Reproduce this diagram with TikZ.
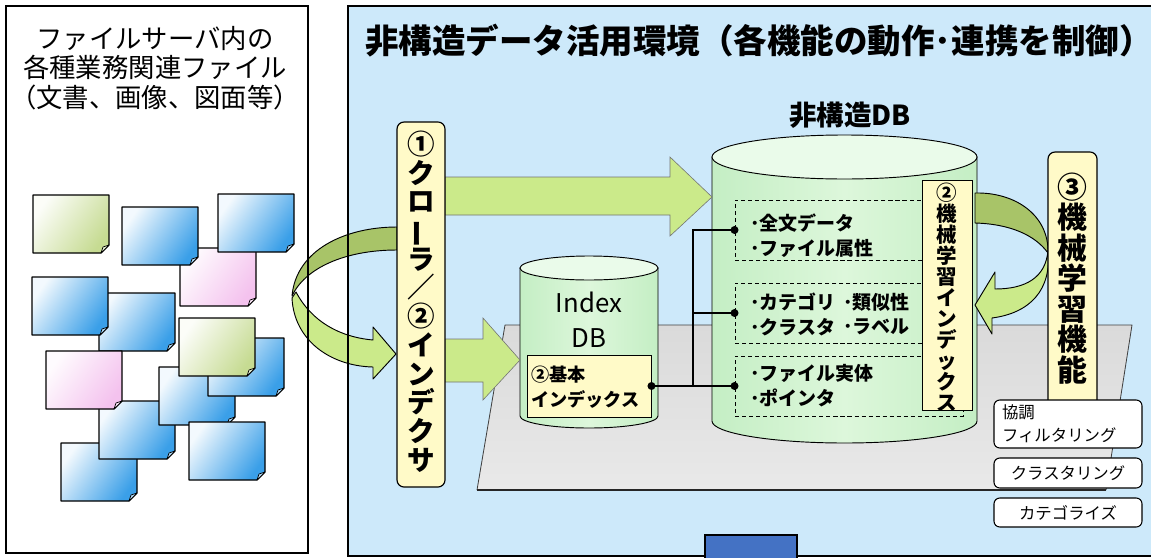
\documentclass[tikz,border=0pt]{standalone}
\usepackage{fontspec}
\setmainfont{Noto Sans CJK JP}
\usepackage{graphicx}

\definecolor{envbg}{HTML}{CDE9FA}
\definecolor{memo}{HTML}{FFFAC8}
\definecolor{cylbody}{HTML}{C4EEC4}
\definecolor{cylmid}{HTML}{DDF7DB}
\definecolor{cyltop}{HTML}{EAFBEA}
\definecolor{arrowlight}{HTML}{CBEA8A}
\definecolor{arrowdark}{HTML}{A8C468}
\definecolor{platformtop}{HTML}{DADADA}
\definecolor{platformbot}{HTML}{E9E9E9}
\definecolor{docblue}{HTML}{3A9FE8}
\definecolor{docgreen}{HTML}{C6DB92}
\definecolor{docpink}{HTML}{F4C2EE}
\definecolor{barblue}{HTML}{4472C4}

\tikzset{
  panel/.style={draw=black, line width=1.1pt},
  memobar/.style={draw=black, line width=1pt, fill=memo, rounded corners=6pt,
    inner sep=0pt, align=center},
  memobox/.style={draw=black, line width=0.8pt, fill=memo, inner sep=0pt},
  dbox/.style={draw=black, line width=0.8pt, dash pattern=on 3.5pt off 2.5pt,
    inner sep=0pt},
  itemtext/.style={anchor=west, inner sep=0pt,
    font=\bfseries\fontsize{16.2}{19}\selectfont},
  funcbox/.style={draw=black, line width=0.9pt, fill=white, rounded corners=5pt,
    minimum width=4.44cm, font=\fontsize{14}{19.5}\selectfont},
  flatarrow/.style={fill=arrowlight, draw=black!55, line width=0.5pt},
  bandlight/.style={fill=arrowlight, draw=black, line width=0.8pt, line join=round},
  banddark/.style={fill=arrowdark, draw=black, line width=0.8pt, line join=round},
  joint/.style={fill=black},
}

% a sheet of paper with a curled lower right corner; #1,#2 = top left, #3 = colour
\newcommand{\memofile}[3]{%
  \begin{scope}[shift={(#1,#2)}]
    \shadedraw[top color=#3!6!white, bottom color=#3, shading angle=55,
      draw=black, line width=1pt, line join=round]
      (0,0) -- (76,0) -- (76,50) -- (68,58) -- (0,58) -- cycle;
    \filldraw[fill=#3!40!white, draw=black, line width=0.6pt, line join=round]
      (68,58) .. controls (69,55) .. (70,52) .. controls (73,51.5) .. (76,50) -- cycle;
  \end{scope}}

\begin{document}
\begin{tikzpicture}[x=0.03cm, y=-0.03cm]
\useasboundingbox (0,0) rectangle (1151,557);
\fill[white] (0,0) rectangle (1151,557);

% panel backgrounds
\fill[white] (6,6) rectangle (308,553);
\fill[envbg] (348,6) rectangle (1160,556);

% business files
\memofile{180}{248}{docpink}
\memofile{122}{207}{docblue}
\memofile{218}{194}{docblue}
\memofile{33}{195}{docgreen}
\memofile{99}{293}{docblue}
\memofile{32}{277}{docblue}
\memofile{61}{443}{docblue}
\memofile{99}{401}{docblue}
\memofile{46}{351}{docpink}
\memofile{159}{367}{docblue}
\memofile{208}{338}{docblue}
\memofile{179}{318}{docgreen}
\memofile{189}{422}{docblue}

\node[align=center, inner sep=0pt, font=\fontsize{22.5}{25}\selectfont] (srctitle) at (155,68)
  {ファイルサーバ内の\\各種業務関連ファイル\\{\addfontfeature{RawFeature=+halt}（}文書、画像、図面等{\addfontfeature{RawFeature=+halt}）}};

\node[anchor=west, inner sep=0pt, font=\bfseries\fontsize{28.6}{30}\selectfont] (envtitle) at (365,41)
  {非構造データ活用環境（各機能の動作･連携を制御{\addfontfeature{RawFeature=+halt}）}};

% platform
\shade[top color=platformtop, bottom color=platformbot]
  (505,325) -- (1132,325) -- (1106,490) -- (477,490) -- cycle;
\draw[black!75, line width=0.7pt, line join=round]
  (477,490) -- (505,325) -- (1132,325) -- (1106,490);
\draw[black!85, line width=1.4pt] (477,490) -- (1106,490);

% Index DB cylinder
\shadedraw[left color=cylbody, right color=cylbody, middle color=cylmid, draw=black, line width=0.8pt]
  (520,268) -- (520,416) arc[start angle=180, end angle=360, x radius=2.07cm, y radius=0.36cm]
  -- (658,268) -- cycle;
\filldraw[fill=cyltop, draw=black, line width=0.8pt] (589,268) ellipse[x radius=2.07cm, y radius=0.36cm];
\node[align=center, inner sep=0pt, font=\fontsize{22}{30}\selectfont] (idxlabel) at (589,320) {Index\\DB};
\node[memobox, minimum width=3.72cm, minimum height=1.86cm] (bidx) at (589,386) {};
\node[anchor=west, align=left, inner sep=0pt, font=\bfseries\fontsize{15.5}{21}\selectfont] (bidxtext) at (531,387)
  {②基本\\インデックス};

% unstructured DB cylinder
\shadedraw[left color=cylbody, right color=cylbody, middle color=cylmid, draw=black, line width=0.8pt]
  (712,157) -- (712,421) arc[start angle=180, end angle=360, x radius=3.975cm, y radius=0.66cm]
  -- (977,157) -- cycle;
\filldraw[fill=cyltop, draw=black, line width=0.8pt] (844.5,157) ellipse[x radius=3.975cm, y radius=0.66cm];
\node[inner sep=0pt, font=\bfseries\fontsize{23.5}{25}\selectfont] (udblabel) at (850,115) {非構造DB};

% stored contents
\node[dbox, minimum width=6.84cm, minimum height=1.8cm] (db1) at (849,230) {};
\node[dbox, minimum width=6.84cm, minimum height=1.8cm] (db2) at (849,313) {};
\node[dbox, minimum width=6.84cm, minimum height=1.8cm] (db3) at (849,386) {};
\node[itemtext] (t1a) at (750,223) {･全文データ};
\node[itemtext] (t1b) at (750,248) {･ファイル属性};
\node[itemtext] (t2a) at (750,302) {･カテゴリ};
\node[itemtext] (t2b) at (843,302) {･類似性};
\node[itemtext] (t2c) at (750,327) {･クラスタ};
\node[itemtext] (t2d) at (843,327) {･ラベル};
\node[itemtext] (t3a) at (750,373) {･ファイル実体};
\node[itemtext] (t3b) at (750,398) {･ポインタ};

% links from the basic index
\coordinate (jn) at (693,386);
\draw[line width=0.9pt] (bidx.east) -- (db3.west);
\draw[line width=0.9pt] (jn) |- (db2.west);
\draw[line width=0.9pt] (jn) |- (db1.west);
\fill[joint] (bidx.east) circle[radius=3.4pt];
\fill[joint] (db1.west) circle[radius=3.4pt];
\fill[joint] (db2.west) circle[radius=3.4pt];
\fill[joint] (db3.west) circle[radius=3.4pt];

% machine learning index
\node[memobox, minimum width=1.5cm, minimum height=6.9cm] (mlidx) at (947,295) {};
\node[align=center, inner sep=0pt, font=\bfseries\fontsize{17.5}{17.9}\selectfont] (mlidxtext) at (947,297)
  {②\\機\\械\\学\\習\\イ\\ン\\デ\\ッ\\ク\\ス};

% flows
\draw[flatarrow] (445,177) -- (670,177) -- (670,157) -- (712,197) -- (670,236) -- (670,215) -- (445,215) -- cycle;
\draw[flatarrow] (445,339) -- (483,339) -- (483,318) -- (520,360) -- (483,400) -- (483,382) -- (445,382) -- cycle;

\draw[bandlight] (296,292) .. controls (312,322) and (340,337) .. (373,340) -- (373,327) -- (396,354)
  -- (373,379) -- (373,367) .. controls (330,366) and (294,340) .. (292,298) -- cycle;
\draw[banddark] (397,227) .. controls (345,227) and (296,250) .. (292,296)
  .. controls (305,268) and (345,250) .. (397,250) -- cycle;

\draw[banddark] (975,193) .. controls (1015,192) and (1049,215) .. (1048,253)
  .. controls (1035,235) and (1010,224) .. (975,223) -- cycle;
\draw[bandlight] (1048,250) .. controls (1046,278) and (1025,289) .. (995,289) -- (995,272) -- (975,305)
  -- (992,334) -- (992,318) .. controls (1030,313) and (1052,290) .. (1048,250) -- cycle;

% panel outlines
\draw[panel] (6,6) rectangle (308,553);
\draw[panel] (348,6) rectangle (1160,556);

% crawler / indexer
\node[memobar, minimum width=1.44cm, minimum height=10.95cm] (crawler) at (421,304.5) {};
\node[align=center, inner sep=0pt, font=\bfseries\fontsize{23.5}{24.5}\selectfont] (crawlertext) at (421,301.5)
  {①\\ク\\ロ\\\rotatebox[origin=c]{90}{ー}\\ラ\\／\\②\\イ\\ン\\デ\\ク\\サ};

% machine learning function
\node[memobar, minimum width=1.47cm, minimum height=7.74cm] (mlfunc) at (1072.5,281) {};
\node[align=center, inner sep=0pt, font=\bfseries\fontsize{25.5}{26}\selectfont] (mlfunctext) at (1072.5,278.5)
  {③\\機\\械\\学\\習\\機\\能};

\node[funcbox, minimum height=1.44cm, align=left, text width=3.96cm, inner xsep=0.24cm] (cf) at (1068,424)
  {協調\\フィルタリング};
\node[funcbox, minimum height=0.9cm] (cl) at (1068,473) {クラスタリング};
\node[funcbox, minimum height=0.87cm] (ca) at (1068,512.5) {カテゴライズ};

% control bar
\filldraw[fill=barblue, draw=black, line width=1.3pt] (705,535) rectangle (797,570);
\end{tikzpicture}
\end{document}
